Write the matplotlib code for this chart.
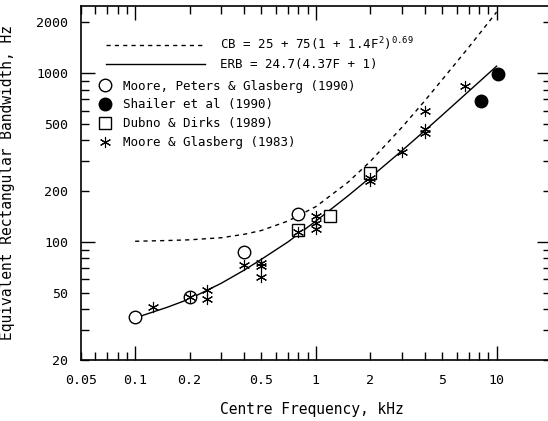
import matplotlib
matplotlib.use("Agg")
import matplotlib.pyplot as plt
from matplotlib.ticker import FixedLocator, FuncFormatter

plt.rcParams['font.family'] = ['DejaVu Sans Mono']
plt.rcParams['mathtext.fontset'] = 'custom'
plt.rcParams['mathtext.rm'] = 'DejaVu Sans Mono'
plt.rcParams['mathtext.it'] = 'DejaVu Sans Mono'

# curves (kHz, Hz)
curve_freq = [0.1, 0.15, 0.2, 0.3, 0.4, 0.5, 0.7, 1, 1.5, 2, 3, 4, 5, 7, 10]
cb_bw = [101, 102, 103, 106, 111, 117, 133, 162, 225, 300, 479, 685, 915, 1420, 2300]
erb_bw = [35.5, 41, 46, 57, 68, 79, 100, 133, 187, 241, 348, 456, 564, 780, 1100]

# data points
mpg_freq = [0.1, 0.2, 0.4, 0.8]
mpg_bw = [36, 47, 87, 146]

shailer_freq = [8.2, 10.2]
shailer_bw = [680, 990]

dubno_freq = [0.8, 1.2, 2.0]
dubno_bw = [118, 143, 255]

mg83_freq = [0.125, 0.2, 0.25, 0.25, 0.4, 0.5, 0.5, 0.5, 0.8, 1.0, 1.0, 1.0,
             2.0, 2.0, 3.0, 4.0, 4.0, 4.0, 6.7]
mg83_bw = [41, 47, 52, 46, 73, 75, 72, 62, 115, 142, 130, 120,
           240, 230, 340, 600, 470, 445, 840]

x_labels = {0.05: '0.05', 0.1: '0.1', 0.2: '0.2', 0.5: '0.5',
            1: '1', 2: '2', 5: '5', 10: '10'}
y_labels = {20: '20', 50: '50', 100: '100', 200: '200', 500: '500',
            1000: '1000', 2000: '2000'}

fig = plt.figure(figsize=(5.48, 4.21), dpi=100)
ax = fig.add_axes([0.1473, 0.1449, 0.8582, 0.8409])
ax.set_xscale('log')
ax.set_yscale('log')
ax.set_xlim(0.05, 20)
ax.set_ylim(20, 2500)

cb_line, = ax.plot(curve_freq, cb_bw, color='black', lw=1.0, ls=(0, (3, 3)))
erb_line, = ax.plot(curve_freq, erb_bw, color='black', lw=1.0)

h1, = ax.plot(mpg_freq, mpg_bw, 'o', mfc='white', mec='black', mew=1.0, ms=9, ls='none')
h2, = ax.plot(shailer_freq, shailer_bw, 'o', mfc='black', mec='black', ms=9, ls='none')
h3, = ax.plot(dubno_freq, dubno_bw, 's', mfc='white', mec='black', mew=1.0, ms=8.5, ls='none')
h4, = ax.plot(mg83_freq, mg83_bw, marker=(6, 2, 0), color='black', mew=0.8, ms=8, ls='none')

# ticks
def fmt(table):
    def f(v, pos):
        for k, s in table.items():
            if abs(v - k) / k < 1e-6:
                return s
        return ''
    return FuncFormatter(f)

ax.xaxis.set_major_locator(FixedLocator([0.1, 1, 10]))
ax.xaxis.set_minor_locator(FixedLocator(
    [0.05, 0.06, 0.07, 0.08, 0.09] + [k * 0.1 for k in range(2, 10)] +
    [float(k) for k in range(2, 10)] + [20]))
ax.xaxis.set_major_formatter(fmt(x_labels))
ax.xaxis.set_minor_formatter(fmt(x_labels))

ax.yaxis.set_major_locator(FixedLocator([100, 1000]))
ax.yaxis.set_minor_locator(FixedLocator(
    [k * 10 for k in range(2, 10)] + [k * 100 for k in range(2, 10)] + [2000]))
ax.yaxis.set_major_formatter(fmt(y_labels))
ax.yaxis.set_minor_formatter(fmt(y_labels))

ax.tick_params(which='both', direction='in', top=True, right=True,
               labelsize=9.5, width=1.0, colors='black')
ax.tick_params(which='major', length=10)
ax.tick_params(which='minor', length=5.5)
ax.tick_params(axis='x', which='both', pad=10)
ax.tick_params(axis='y', which='both', pad=9)
for s in ax.spines.values():
    s.set_linewidth(1.2)

ax.set_xlabel('Centre Frequency, kHz', fontsize=10.5)
ax.set_ylabel('Equivalent Rectangular Bandwidth, Hz', fontsize=10.5)
ax.xaxis.set_label_coords(0.4907, -0.118)
ax.yaxis.set_label_coords(-0.14, 0.5)

leg1 = ax.legend([cb_line, erb_line],
                 [r'CB = 25 + 75(1 + 1.4F$^2$)$^{0.69}$', 'ERB = 24.7(4.37F + 1)'],
                 loc='upper left', bbox_to_anchor=(0.054, 0.918),
                 frameon=False, borderpad=0, borderaxespad=0,
                 handlelength=7.9, handletextpad=1.2, labelspacing=0.45,
                 prop={'size': 9})
ax.add_artist(leg1)
ax.legend([h1, h2, h3, h4],
          ['Moore, Peters & Glasberg (1990)', 'Shailer et al (1990)',
           'Dubno & Dirks (1989)', 'Moore & Glasberg (1983)'],
          loc='upper left', bbox_to_anchor=(0.0385, 0.792),
          frameon=False, borderpad=0, borderaxespad=0,
          handlelength=1.0, handletextpad=0.9, labelspacing=0.47,
          prop={'size': 9})

fig.savefig('out.png', dpi=100)
